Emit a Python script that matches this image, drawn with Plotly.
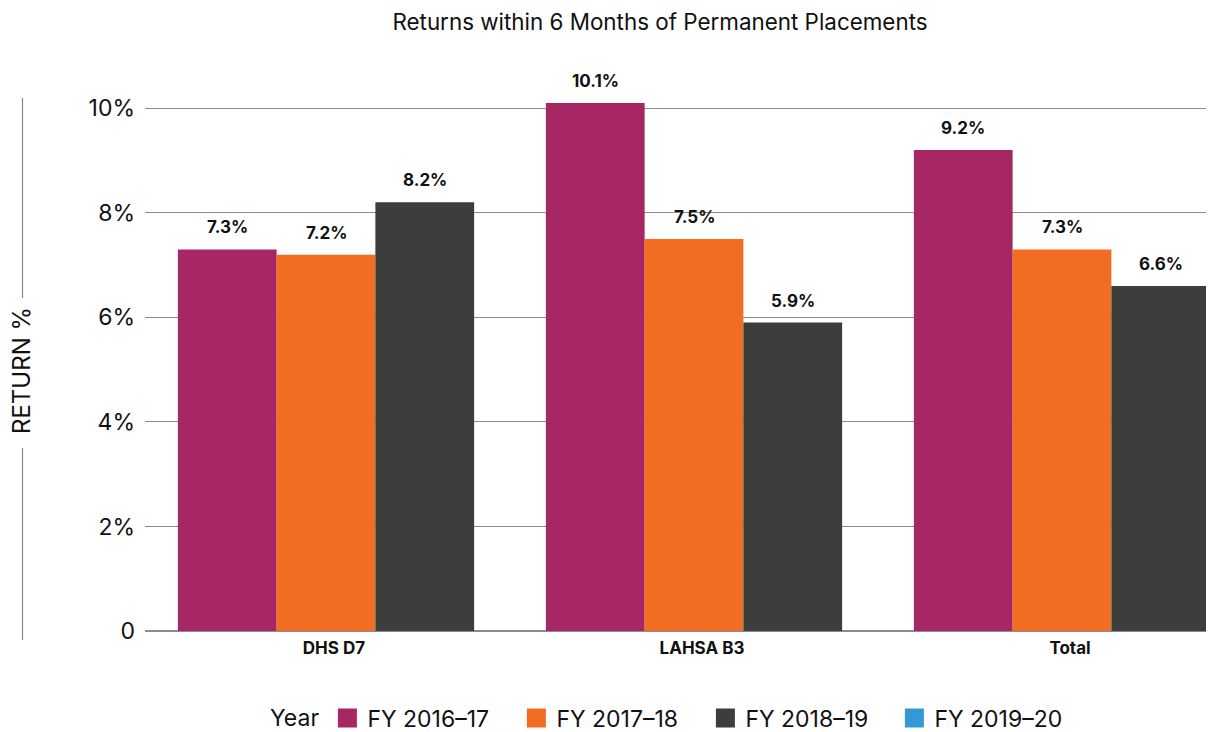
import plotly.graph_objects as go

categories = ["DHS D7", "LAHSA B3", "Total"]
series_names = ["FY 2016–17", "FY 2017–18", "FY 2018–19", "FY 2019–20"]
fy_2016_17 = [7.3, 10.1, 9.2]
fy_2017_18 = [7.2, 7.5, 7.3]
fy_2018_19 = [8.2, 5.9, 6.6]
colors = ["#a62763", "#f26c22", "#3d3d3d", "#3399d6"]
y_ticks = [0, 2, 4, 6, 8, 10]
y_tick_labels = ["0", "2%", "4%", "6%", "8%", "10%"]

FONT = "Inter"
OFF = 8  # browser default body margin
W, H = 1214 - OFF, 732 - OFF
L, R, T, B = 145 - OFF, 0, 56 - OFF, 101
PW, PH = W - L - R, H - T - B
CAT_PX = 368
bar_series = [fy_2016_17, fy_2017_18, fy_2018_19]
bargap = 0.195
bw = (1 - bargap) / len(bar_series)

def px_x(px):  # screen px -> paper
    return (px - OFF - L) / PW

def px_y(py):
    return (H - B - (py - OFF)) / PH

fig = go.Figure()
for j, vals in enumerate(bar_series):
    fig.add_trace(go.Bar(
        x=categories, y=vals, name=series_names[j],
        marker=dict(color=colors[j], line=dict(width=0)),
        showlegend=False, hoverinfo="skip",
    ))
for j, name in enumerate(series_names):
    fig.add_trace(go.Scatter(
        x=[None], y=[None], name=name, mode="markers",
        marker=dict(symbol="square", size=16, color=colors[j],
                    line=dict(color=colors[j], width=3)),
        showlegend=True,
    ))

annotations = []
for j, vals in enumerate(bar_series):
    for i, v in enumerate(vals):
        annotations.append(dict(
            x=i + (j - 1) * bw, y=v, xref="x", yref="y",
            text=f"<b>{v:.1f}%</b>", showarrow=False,
            yanchor="bottom", yshift=10,
            font=dict(family=FONT, size=17, color="#111111"),
        ))

annotations.append(dict(
    x=px_x(22), y=px_y(371), xref="paper", yref="paper", text="RETURN %",
    showarrow=False, textangle=-90, xanchor="center", yanchor="middle",
    font=dict(family=FONT, size=24, color="#111111"),
))

shapes = [
    dict(type="line", xref="paper", yref="paper",
         x0=px_x(22.5), x1=px_x(22.5), y0=px_y(98), y1=px_y(298),
         line=dict(color="#888888", width=1.2)),
    dict(type="line", xref="paper", yref="paper",
         x0=px_x(22.5), x1=px_x(22.5), y0=px_y(448), y1=px_y(640),
         line=dict(color="#888888", width=1.2)),
]

x0 = -0.5 + 3 / CAT_PX
fig.update_layout(
    width=W, height=H,
    margin=dict(l=L, r=R, t=T, b=B, autoexpand=False),
    paper_bgcolor="white", plot_bgcolor="white",
    barmode="group", bargap=bargap, bargroupgap=0,
    title=dict(text="Returns within 6 Months of Permanent Placements",
               x=(660 - OFF) / W, xanchor="center", y=1 - (22 - OFF) / H, yanchor="middle",
               font=dict(family=FONT, size=22.4, color="#111111")),
    font=dict(family=FONT, color="#111111"),
    xaxis=dict(range=[x0, x0 + PW / CAT_PX], showgrid=False,
               tickfont=dict(family=FONT, size=17, color="#111111", weight="bold"),
               ticks="", showline=False, ticklabelshift=8, ticklabelstandoff=5),
    yaxis=dict(range=[0, 11], tickvals=y_ticks, ticktext=y_tick_labels,
               showgrid=True, gridcolor="#8c8c8c", gridwidth=1,
               zeroline=True, zerolinecolor="#8c8c8c", zerolinewidth=1.5,
               tickfont=dict(family=FONT, size=23, color="#111111"),
               ticks="", ticklabelstandoff=9, showline=False),
    legend=dict(orientation="h", xref="container", yref="container",
                x=(268 - OFF) / W, xanchor="left", y=1 - (718 - OFF) / H, yanchor="middle",
                title=dict(text="Year", font=dict(family=FONT, size=23)),
                font=dict(family=FONT, size=23, color="#111111"),
                entrywidth=144, itemsizing="trace"),
    annotations=annotations, shapes=shapes,
)

fig.write_html("out.html")
